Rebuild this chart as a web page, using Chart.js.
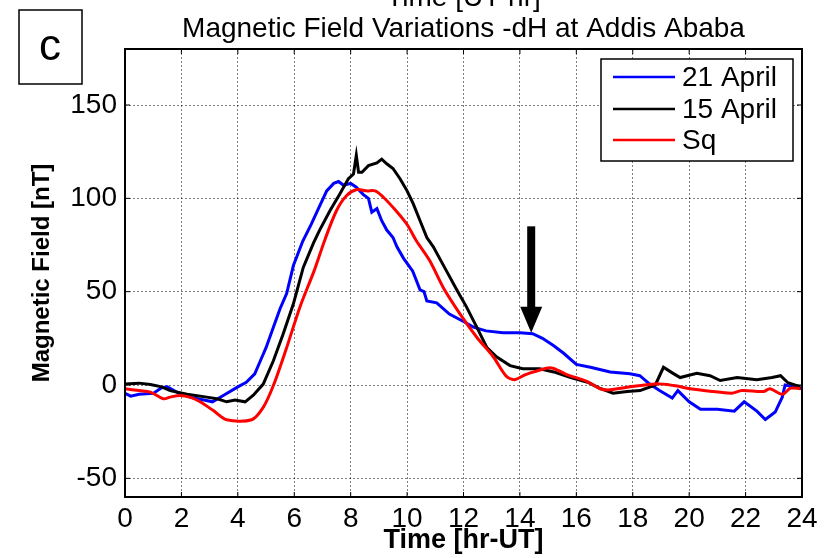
<!DOCTYPE html>
<html>
<head>
<meta charset="utf-8">
<script src="https://cdn.jsdelivr.net/npm/chart.js@4"></script>
<style>
  html, body { margin: 0; padding: 0; background: #fff; overflow: hidden; }
  #wrap { position: relative; width: 835px; height: 558px; }
</style>
</head>
<body>
<div id="wrap"><canvas id="magChart" width="835" height="558"></canvas></div>
<script>
// Time axis (hours UT) and tick labels
const xTicks = [0, 2, 4, 6, 8, 10, 12, 14, 16, 18, 20, 22, 24];
const yTicks = [-50, 0, 50, 100, 150];

// 21 April (blue)
const april21Hours = [0, 0.2, 0.5, 1.0, 1.3, 1.5, 1.8, 2.3, 2.8, 3.1, 3.5, 4.0, 4.3, 4.6, 4.8, 5.0, 5.26, 5.5, 5.73, 5.97,
  6.3, 6.6, 6.8, 7.15, 7.4, 7.57, 7.75, 8.0, 8.2, 8.45, 8.63, 8.75, 8.93, 9.1, 9.28, 9.5, 9.64, 9.87, 10.2, 10.46,
  10.6, 10.7, 11.05, 11.5, 12.0, 12.35, 12.8, 13.4, 14.0, 14.45, 14.8, 15.2, 15.55, 16.0, 16.5, 17.2, 17.9, 18.25,
  18.6, 18.95, 19.4, 19.6, 20.0, 20.4, 21.0, 21.6, 21.95, 22.4, 22.7, 23.05, 23.3, 23.4, 23.7, 24.0];
const april21Values = [-4.5, -6, -5, -4.5, -1.5, -1, -3.5, -6.5, -8, -9, -5.5, -1, 1.5, 6, 13, 20, 31, 41, 49, 64,
  77, 86, 92.6, 104, 108, 109, 107, 108, 106, 102, 100, 92.6, 94.5, 88, 83, 79, 74, 68, 61, 51,
  50, 45, 44, 38, 34, 31, 29, 28, 28, 27.5, 25, 21, 17, 11, 9.5, 7, 6, 5,
  0.5, -3, -7, -3, -9, -13, -13, -14, -9, -14, -18.5, -14.5, -6.5, 0, -1, -2];

// 15 April (black)
const april15Hours = [0, 0.5, 0.9, 1.3, 1.6, 2.2, 2.9, 3.3, 3.6, 3.9, 4.26, 4.55, 4.9, 5.26, 5.6, 5.97, 6.32, 6.68,
  6.9, 7.27, 7.62, 7.92, 8.1, 8.2, 8.28, 8.4, 8.63, 8.93, 9.1, 9.28, 9.5, 9.75, 10.0, 10.22, 10.46, 10.7, 10.93,
  11.4, 11.76, 12.1, 12.47, 12.83, 13.18, 13.65, 14.1, 14.7, 15.2, 15.8, 16.4, 16.8, 17.3, 17.8, 18.26, 18.8,
  19.09, 19.4, 19.68, 20.27, 20.74, 21.1, 21.7, 22.4, 22.94, 23.24, 23.5, 23.95];
const april15Values = [0.5, 1, 0.3, -1, -3, -5, -6.5, -7.5, -9, -8, -9, -5.5, 0.5, 13, 27, 43.5, 63, 76,
  83, 93.5, 102.5, 110.5, 113, 123, 114, 114, 117.5, 119, 121, 118.5, 116, 110.5, 104, 97, 88, 79, 74,
  61, 51, 42, 31, 20, 15, 10.4, 8.7, 8.7, 7, 4, 1.5, -1.5, -4.4, -3.5, -3, 0,
  9.5, 6.5, 4, 6.3, 5, 2.4, 4, 2.8, 4, 5, 1.2, -1];

// Sq quiet-day curve (red)
const sqHours = [0, 0.5, 0.9, 1.36, 1.6, 1.95, 2.3, 2.66, 3.13, 3.6, 4.49, 4.9, 5.26, 5.73, 6.2, 6.7, 7.09, 7.5,
  7.86, 8.22, 8.57, 8.87, 9.16, 9.63, 10.0, 10.34, 10.8, 11.29, 11.88, 12.47, 13.06, 13.5, 13.8, 14.2, 14.6,
  15.07, 15.4, 15.66, 16.37, 16.84, 17.2, 17.8, 18.8, 19.45, 20.04, 20.74, 21.5, 21.87, 22.63, 22.87, 23.3, 23.6, 23.95];
const sqValues = [-2, -3, -3.8, -7.4, -6.5, -5.6, -6.5, -9, -13.7, -18.6, -18.6, -12, -0.3, 20, 41.7, 61, 78, 93.5,
  101.5, 104.7, 104, 104, 100.6, 93, 86, 77, 66.7, 52, 38, 25.6, 15, 5, 2.8, 5.6, 7.5,
  9.2, 7.5, 5.6, 2, -2, -2.6, -1.2, 0.6, -0.3, -2, -3.3, -4.4, -3, -3.5, -2, -5, -1.7, -2];

const seriesNames = ['21 April', '15 April', 'Sq'];
const seriesColors = ['#0000ff', '#000000', '#ff0000'];

const FONT = "'Liberation Sans', Arial, sans-serif";

function toPoints(hours, values) {
  return hours.map((h, i) => ({ x: h, y: values[i] }));
}

// figure extras: frame, inward ticks, titles, legend box, panel label, arrow
const extras = {
  id: 'extras',
  afterDraw(chart) {
    const ctx = chart.ctx;
    const a = chart.chartArea;
    const xs = chart.scales.x, ys = chart.scales.y;
    ctx.save();

    // frame
    ctx.strokeStyle = '#000';
    ctx.lineWidth = 2;
    ctx.strokeRect(a.left, a.top, a.right - a.left, a.bottom - a.top);

    // inward tick marks
    ctx.lineWidth = 1;
    ctx.beginPath();
    xTicks.forEach(v => {
      const px = xs.getPixelForValue(v);
      ctx.moveTo(px, a.bottom); ctx.lineTo(px, a.bottom - 5);
      ctx.moveTo(px, a.top); ctx.lineTo(px, a.top + 5);
    });
    yTicks.forEach(v => {
      const py = ys.getPixelForValue(v);
      ctx.moveTo(a.left, py); ctx.lineTo(a.left + 5, py);
      ctx.moveTo(a.right, py); ctx.lineTo(a.right - 5, py);
    });
    ctx.stroke();

    // titles (first line is cut by the top edge, as in the original)
    const cx = (a.left + a.right) / 2;
    ctx.fillStyle = '#000';
    ctx.textAlign = 'center';
    ctx.textBaseline = 'alphabetic';
    ctx.font = '28px ' + FONT;
    ctx.fillText('Time [UT hr]', cx, 6);
    ctx.fillText('Magnetic Field Variations -dH at Addis Ababa', cx, 37);

    // panel label
    ctx.lineWidth = 1.5;
    ctx.fillStyle = '#fff';
    ctx.fillRect(19, 10, 63, 74);
    ctx.strokeRect(19, 10, 63, 74);
    ctx.fillStyle = '#000';
    ctx.font = '44px ' + FONT;
    ctx.textBaseline = 'middle';
    ctx.fillText('c', 50, 48);

    // legend
    const lx = 601, ly = 59, lw = 192, lh = 102;
    ctx.fillStyle = '#fff';
    ctx.fillRect(lx, ly, lw, lh);
    ctx.lineWidth = 1.5;
    ctx.strokeStyle = '#000';
    ctx.strokeRect(lx, ly, lw, lh);
    ctx.font = '28px ' + FONT;
    ctx.textAlign = 'left';
    const rows = [77, 109, 140];
    seriesNames.forEach((name, i) => {
      ctx.strokeStyle = seriesColors[i];
      ctx.lineWidth = 2.5;
      ctx.beginPath();
      ctx.moveTo(613, rows[i]); ctx.lineTo(675, rows[i]);
      ctx.stroke();
      ctx.fillStyle = '#000';
      ctx.fillText(name, 682, rows[i] + 1);
    });

    // arrow pointing at the 21 April plateau
    const ax = xs.getPixelForValue(14.4);
    const tipY = ys.getPixelForValue(28);
    const tailY = ys.getPixelForValue(85);
    ctx.fillStyle = '#000';
    ctx.fillRect(ax - 4, tailY, 8, tipY - tailY - 22);
    ctx.beginPath();
    ctx.moveTo(ax - 11, tipY - 26);
    ctx.lineTo(ax + 11, tipY - 26);
    ctx.lineTo(ax, tipY);
    ctx.closePath();
    ctx.fill();

    ctx.restore();
  }
};

const ctx = document.getElementById('magChart').getContext('2d');
new Chart(ctx, {
  type: 'line',
  data: {
    datasets: [
      { label: seriesNames[0], data: toPoints(april21Hours, april21Values), borderColor: seriesColors[0], borderWidth: 3, tension: 0, order: 3 },
      { label: seriesNames[1], data: toPoints(april15Hours, april15Values), borderColor: seriesColors[1], borderWidth: 3, tension: 0, order: 2 },
      { label: seriesNames[2], data: toPoints(sqHours, sqValues), borderColor: seriesColors[2], borderWidth: 3, tension: 0.3, order: 1 }
    ]
  },
  options: {
    responsive: false,
    animation: false,
    devicePixelRatio: 1,
    elements: { point: { radius: 0 } },
    layout: { padding: { top: 49, right: 33, left: 0, bottom: 0 } },
    plugins: { legend: { display: false }, tooltip: { enabled: false }, title: { display: false } },
    scales: {
      x: {
        type: 'linear', min: 0, max: 24,
        afterBuildTicks: s => { s.ticks = xTicks.map(v => ({ value: v })); },
        afterFit: s => { s.height = 61; },
        grid: { color: 'rgba(0,0,0,0.5)', drawTicks: false },
        border: { display: false, dash: [2, 2] },
        ticks: { color: '#000', padding: 5, autoSkip: false, maxRotation: 0, font: { family: FONT, size: 28 } },
        title: { display: true, text: 'Time [hr-UT]', color: '#000', font: { family: FONT, size: 27, weight: 'bold' }, padding: { top: 0, bottom: 1 } }
      },
      y: {
        type: 'linear', min: -60, max: 180,
        afterBuildTicks: s => { s.ticks = yTicks.map(v => ({ value: v })); },
        afterFit: s => { s.width = 125; },
        grid: { color: 'rgba(0,0,0,0.5)', drawTicks: false },
        border: { display: false, dash: [2, 2] },
        ticks: { color: '#000', padding: 8, font: { family: FONT, size: 28 } },
        title: { display: true, text: 'Magnetic Field [nT]', color: '#000', font: { family: FONT, size: 24, weight: 'bold' }, padding: { top: 28, bottom: 0 } }
      }
    }
  },
  plugins: [extras]
});
</script>
</body>
</html>
